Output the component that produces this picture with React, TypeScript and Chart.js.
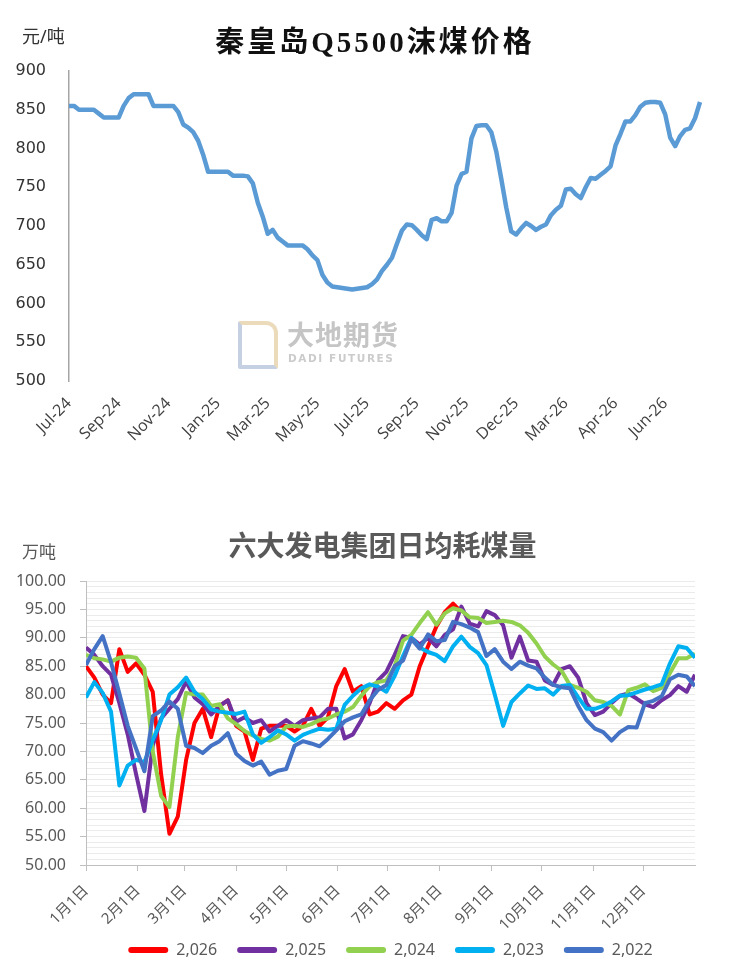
import React, { useEffect, useRef } from 'react';
import { Chart, registerables } from 'chart.js';

Chart.register(...registerables);

// ---- top chart: 秦皇岛Q5500沫煤价格 ----
const priceTicks = ['Jul-24', 'Sep-24', 'Nov-24', 'Jan-25', 'Mar-25', 'May-25', 'Jul-25', 'Sep-25', 'Nov-25', 'Dec-25', 'Mar-26', 'Apr-26', 'Jun-26'];
const TICK_EVERY = 10;
const priceValues = [
  855, 855, 850, 850, 850, 850, 845, 840, 840, 840,
  840, 855, 865, 870, 870, 870, 870, 855, 855, 855,
  855, 855, 847, 831, 827, 821, 810, 792, 770, 770,
  770, 770, 770, 765, 765, 765, 764, 755, 730, 712,
  690, 695, 685, 680, 675, 675, 675, 675, 670, 662,
  656, 637, 627, 622, 621, 620, 619, 618, 619, 620,
  621, 625, 631, 642, 650, 659, 677, 694, 702, 701,
  695, 688, 683, 708, 710, 706, 706, 717, 752, 767,
  770, 813, 829, 830, 830, 821, 796, 761, 724, 693,
  689, 697, 704, 700, 695, 699, 702, 714, 721, 726,
  747, 748, 741, 736, 750, 762, 761, 766, 771, 777,
  804, 819, 835, 835, 843, 854, 859, 860, 860, 859,
  844, 814, 803, 816, 824, 826, 839, 860,
];
const priceLabels = priceValues.map((_, i) => (i % TICK_EVERY === 0 ? priceTicks[i / TICK_EVERY] : ''));

// ---- bottom chart: 六大发电集团日均耗煤量 (sampled every 5 days) ----
const monthStarts = [0, 31, 59, 90, 120, 151, 181, 212, 243, 273, 304, 334];
const monthLabels = ['1月1日', '2月1日', '3月1日', '4月1日', '5月1日', '6月1日', '7月1日', '8月1日', '9月1日', '10月1日', '11月1日', '12月1日'];
const sampleDays = Array.from({ length: 74 }, (_, i) => i * 5);
const yearNames = ['2,026', '2,025', '2,024', '2,023', '2,022'];
const yearColors = ['#FF0000', '#7030A0', '#92D050', '#00B0F0', '#4472C4'];

const burn2026 = [
  85, 83, 80, 78.5, 88, 84, 85.5, 83.5, 80.5, 66,
  55.5, 58.5, 68.5, 75, 77.5, 72.5, 78, 79, 74.5, 73.5,
  68.5, 74, 74.5, 74.5, 74.5, 73.5, 74.5, 77.5, 74.5, 76,
  81.5, 84.5, 80.5, 81.5, 76.5, 77, 78.5, 77.5, 79, 80,
  85, 88.5, 92, 94.5, 96, 94.5,
];
const burn2025 = [
  88.3, 87, 85, 83.5, 78.5, 73, 66, 59.5, 71, 75.8,
  77.5, 79.2, 82.3, 79.5, 78.3, 76.5, 78, 79, 75.2, 76,
  75, 75.5, 73.5, 74.5, 75.5, 74.5, 75.5, 75.8, 76, 77.5,
  77.5, 72.3, 73, 75.5, 78.5, 82.5, 84, 87, 90.3, 90,
  88.8, 90, 88.5, 90.5, 91.5, 95.5, 92.5, 92, 94.7, 94,
  92.2, 86.5, 90.2, 86, 85.8, 82.5, 81.7, 84.5, 85, 83,
  78.5, 76.4, 77, 78.5, 79.8, 80.2, 79.3, 78.3, 77.8, 79,
  79.9, 81.5, 80.5, 83.5,
];
const burn2024 = [
  87, 86.4, 86.2, 85.8, 86.5, 86.7, 86.5, 84.6, 70, 62.2,
  60.2, 72.5, 80.3, 80, 80, 78, 78.3, 75.8, 74.8, 73.6,
  72.8, 72.2, 71.9, 72.6, 74.4, 74.5, 74.3, 74.8, 75.5, 75.8,
  76.5, 77, 77.8, 79.8, 81.5, 82.2, 82.5, 85, 89.5, 90.5,
  92.6, 94.5, 92.3, 94.3, 95.2, 94.8, 93.6, 93.5, 92.6, 92.8,
  93, 92.8, 92.2, 90.9, 89, 86.7, 85.3, 84.2, 81.7, 81.2,
  80.5, 79, 78.7, 78, 76.5, 80.8, 81.2, 81.8, 80.6, 81.2,
  83.8, 86.4, 86.4, 87.2,
];
const burn2023 = [
  79.5, 82.2, 80.3, 77, 64, 67.5, 68.5, 68.1, 72, 75.5,
  80, 81.3, 83, 80.5, 79.2, 77.4, 77, 76.8, 76.6, 77,
  73, 71.5, 72.5, 73.7, 73, 71.9, 72.9, 73.5, 74, 73.8,
  74, 78.2, 79.8, 81.1, 81.8, 81.4, 80.5, 83.3, 86.8, 90,
  88.3, 87.5, 87, 85.9, 88.5, 90.2, 88.4, 87.3, 85.2, 80,
  74.5, 78.7, 80.2, 81.6, 81, 81.1, 80, 81.5, 81.7, 79.5,
  77.5, 77.5, 78, 78.8, 79.8, 79.9, 80.4, 80.9, 81.3, 81.8,
  85.5, 88.5, 88.2, 86.5,
];
const burn2022 = [
  85.2, 88, 90.3, 85.7, 80.2, 74.5, 70.5, 66.5, 76.2, 77.2,
  78.8, 77.5, 71, 70.6, 69.7, 71, 71.8, 73.2, 69.6, 68.3,
  67.5, 68.2, 65.9, 66.6, 66.9, 71, 71.8, 71.4, 70.9, 72.2,
  73.7, 75.3, 76, 76.5, 79, 80.8, 81.7, 85, 86, 89.8,
  88.1, 90.6, 89.4, 89.6, 92.8, 92.4, 91.8, 91, 86.8, 88,
  85.8, 84.5, 85.8, 85.1, 84.6, 83, 81.7, 81.3, 81.1, 78,
  75.5, 74, 73.4, 71.9, 73.4, 74.3, 74.2, 78.5, 78.9, 79.7,
  82.7, 83.5, 83.2, 81.5,
];
const burnSeries = [burn2026, burn2025, burn2024, burn2023, burn2022];

const cjkFont = '"Noto Sans", "Noto Sans CJK SC", sans-serif';

function PriceChart() {
  const canvasRef = useRef<HTMLCanvasElement | null>(null);
  useEffect(() => {
    if (!canvasRef.current) return;
    const c = new Chart(canvasRef.current, {
      type: 'line',
      data: {
        labels: priceLabels,
        datasets: [{
          data: priceValues,
          borderColor: '#5B9BD5',
          borderWidth: 4.5,
          pointRadius: 0,
          tension: 0,
          borderJoinStyle: 'round',
        }],
      },
      options: {
        animation: false,
        responsive: false,
        layout: { padding: { top: 71, right: 50, left: 0, bottom: 0 } },
        plugins: { legend: { display: false }, tooltip: { enabled: false } },
        scales: {
          x: {
            grid: { display: false, drawTicks: false },
            border: { display: false },
            ticks: {
              autoSkip: false, minRotation: 45, maxRotation: 45, padding: 13,
              color: '#404040', font: { family: '"Open Sans", sans-serif', size: 16 },
              callback: (_v: any, i: number) => priceLabels[i] || null,
            },
            afterFit: (s: any) => { s.height = 89; },
          },
          y: {
            min: 500, max: 900,
            grid: { display: false, drawTicks: false },
            border: { display: true, color: '#A6A6A6', width: 1.5 },
            ticks: { stepSize: 50, padding: 23, color: '#333333', font: { family: '"DejaVu Sans", sans-serif', size: 16 } },
            afterFit: (s: any) => { s.width = 69; },
          },
        },
      },
    });
    return () => { c.destroy(); };
  }, []);
  return <canvas ref={canvasRef} width={750} height={470} style={{ position: 'absolute', left: 0, top: 0 }} />;
}

function BurnChart() {
  const canvasRef = useRef<HTMLCanvasElement | null>(null);
  useEffect(() => {
    if (!canvasRef.current) return;
    const c = new Chart(canvasRef.current, {
      type: 'line',
      data: {
        datasets: burnSeries.map((vals, k) => ({
          label: yearNames[k],
          data: vals.map((v, i) => ({ x: sampleDays[i], y: v })),
          borderColor: yearColors[k],
          backgroundColor: yearColors[k],
          borderWidth: 4,
          pointRadius: 0,
          tension: 0,
          borderJoinStyle: 'round' as const,
          order: 4 - k,
        })),
      },
      options: {
        animation: false,
        responsive: false,
        layout: { padding: { top: 101, right: 0, left: 0, bottom: 1 } },
        plugins: {
          tooltip: { enabled: false },
          legend: {
            position: 'bottom',
            fullSize: false,
            labels: {
              boxWidth: 40, boxHeight: 6, useBorderRadius: true, borderRadius: 3,
              padding: 20, color: '#595959', font: { family: cjkFont, size: 16 },
              sort: (a: any, b: any) => a.datasetIndex - b.datasetIndex,
              generateLabels: (chart: any) =>
                Chart.defaults.plugins.legend.labels.generateLabels(chart).map((l: any) => ({ ...l, lineWidth: 0 })),
            },
          },
        },
        scales: {
          x: {
            type: 'linear', min: 0, max: 365,
            afterBuildTicks: (s: any) => { s.ticks = monthStarts.map((v) => ({ value: v })); },
            grid: { display: true, drawOnChartArea: false, drawTicks: true, tickLength: 6, color: '#BFBFBF' },
            border: { display: true, color: '#BFBFBF', width: 1 },
            ticks: {
              autoSkip: false, minRotation: 45, maxRotation: 45, padding: 11,
              color: '#595959', font: { family: cjkFont, size: 15 },
              callback: (_v: any, i: number) => monthLabels[i],
            },
            // labels hang below into the legend band, so no clipping to the axis box
            afterFit: (s: any) => { s.height = 57; s._computeLabelArea = () => undefined; },
          },
          y: {
            min: 50, max: 100,
            grid: {
              color: '#EBEBEB', lineWidth: 1, drawTicks: true, tickLength: 6,
              tickColor: (ctx: any) => (ctx.tick && ctx.tick.value % 5 === 0 ? '#BFBFBF' : 'rgba(0,0,0,0)'),
            },
            border: { display: true, color: '#BFBFBF', width: 1 },
            ticks: {
              stepSize: 1, autoSkip: false, maxTicksLimit: 100, padding: 14,
              color: '#595959', font: { family: cjkFont, size: 16 },
              callback: (v: any) => (Number(v) % 5 === 0 ? Number(v).toFixed(2) : ''),
            },
            afterFit: (s: any) => { s.width = 86; },
          },
          yRight: {
            position: 'right',
            grid: { display: false, drawTicks: false },
            border: { display: false },
            ticks: { display: false },
            afterFit: (s: any) => { s.width = 55; },
          },
        },
      },
    } as any);
    return () => { c.destroy(); };
  }, []);
  return <canvas ref={canvasRef} width={750} height={489} style={{ position: 'absolute', left: 0, top: 480 }} />;
}

export default function App() {
  return (
    <div style={{ position: 'absolute', left: 0, top: 0, width: 750, height: 969, overflow: 'hidden', background: '#fff' }}>
      <PriceChart />
      <div style={{ position: 'absolute', left: 0, top: 18, width: 750, textAlign: 'center', fontFamily: '"Liberation Serif", "Noto Sans CJK SC", serif', fontWeight: 'bold', fontSize: 29, letterSpacing: 3, color: '#111' }}>
        秦皇岛Q5500沫煤价格
      </div>
      <div style={{ position: 'absolute', left: 22, top: 22, fontFamily: cjkFont, fontSize: 18, color: '#333' }}>元/吨</div>
      <div style={{ position: 'absolute', left: 238, top: 321, width: 32, height: 40, borderLeft: '4px solid rgba(150,170,205,0.55)', borderBottom: '4px solid rgba(150,170,205,0.55)', borderTop: '4px solid rgba(222,196,140,0.6)', borderRight: '4px solid rgba(222,196,140,0.6)', borderRadius: '2px 12px 2px 2px' }} />
      <div style={{ position: 'absolute', left: 287, top: 314, fontFamily: cjkFont, fontWeight: 'bold', fontSize: 27, letterSpacing: 1, color: 'rgba(150,150,150,0.55)' }}>大地期货</div>
      <div style={{ position: 'absolute', left: 288, top: 352, fontFamily: '"DejaVu Sans", sans-serif', fontWeight: 'bold', fontSize: 10.5, letterSpacing: 1.6, color: 'rgba(160,160,160,0.55)' }}>DADI FUTURES</div>
      <BurnChart />
      <div style={{ position: 'absolute', left: 0, top: 524, width: 765, textAlign: 'center', fontFamily: cjkFont, fontWeight: 'bold', fontSize: 28, color: '#595959' }}>
        六大发电集团日均耗煤量
      </div>
      <div style={{ position: 'absolute', left: 22, top: 538, fontFamily: cjkFont, fontSize: 17, color: '#595959' }}>万吨</div>
    </div>
  );
}
